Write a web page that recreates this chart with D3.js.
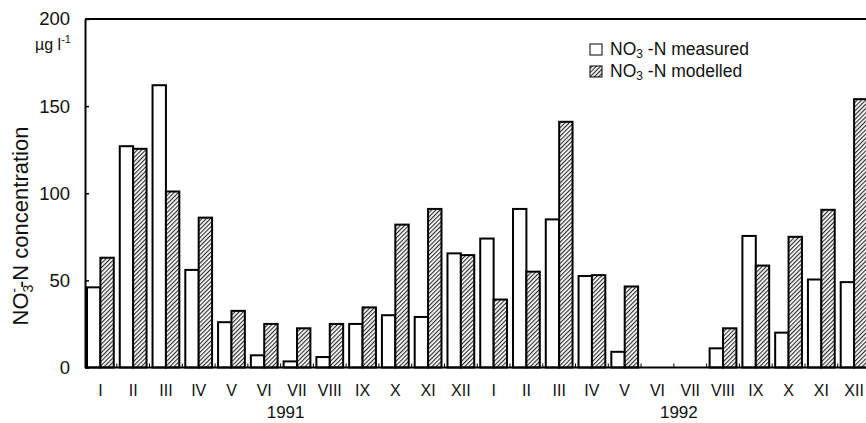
<!DOCTYPE html>
<html>
<head>
<meta charset="utf-8">
<script src="https://cdn.jsdelivr.net/npm/d3@7"></script>
<style>
  body { margin: 0; background: #fff; }
  svg { display: block; font-family: "Liberation Sans", Arial, sans-serif; }
</style>
</head>
<body>
<svg id="chart" width="866" height="423"></svg>
<script>
const months = ["I","II","III","IV","V","VI","VII","VIII","IX","X","XI","XII",
                "I","II","III","IV","V","VI","VII","VIII","IX","X","XI","XII"];
const years = ["1991", "1992"];
const measured = [46,127,162,56,26,7,3.5,6,25,30,29,65.5,
                  74,91,85,52.5,9,null,null,11,75.5,20,50.5,49];
const modelled = [63,125.5,101,86,32.5,25,22.5,25,34.5,82,91,64.5,
                  39,55,141,53,46.5,null,null,22.5,58.5,75,90.5,154];
const yTicks = [0,50,100,150,200];
const seriesNames = ["measured","modelled"];

(function(){
const svg = d3.select("#chart");
const pLeft = 85, pBottom = 367.5, pTop = 19;
const bandW = 32.77;

const x = d3.scaleBand().domain(d3.range(months.length))
  .range([pLeft - 1, pLeft - 1 + bandW * months.length]).padding(0);
const xs = d3.scaleBand().domain(seriesNames).range([3, bandW - 3]).padding(0);
const y = d3.scaleLinear().domain([0, 200]).range([pBottom, pTop]);

// hatch pattern
const defs = svg.append("defs");
const pat = defs.append("pattern").attr("id","hatch")
  .attr("patternUnits","userSpaceOnUse").attr("width",3).attr("height",3)
  .attr("patternTransform","rotate(45)");
pat.append("rect").attr("width",3).attr("height",3).attr("fill","#fff");
pat.append("line").attr("x1",0.6).attr("y1",0).attr("x2",0.6).attr("y2",3)
  .attr("stroke","#222").attr("stroke-width",1.1);

// frame
svg.append("line").attr("x1",pLeft).attr("x2",866).attr("y1",pTop).attr("y2",pTop)
  .attr("stroke","#000").attr("stroke-width",2);

// bars
const rows = months.map((m,i)=>({i, measured: measured[i], modelled: modelled[i]}));
const g = svg.append("g");
const groups = g.selectAll("g.grp").data(rows).join("g")
  .attr("transform", d=>`translate(${x(d.i)},0)`);
groups.selectAll("rect")
  .data(d => seriesNames.map(k => ({k, v: d[k]})).filter(e => e.v != null))
  .join("rect")
  .attr("x", e => xs(e.k))
  .attr("width", xs.bandwidth())
  .attr("y", e => y(e.v))
  .attr("height", e => pBottom - y(e.v))
  .attr("fill", e => e.k === "measured" ? "#fff" : "url(#hatch)")
  .attr("stroke","#000").attr("stroke-width",2);

// small baseline ticks at band boundaries
svg.append("g").selectAll("line").data(d3.range(1, months.length + 1)).join("line")
  .attr("x1", i => x(i - 1) + bandW).attr("x2", i => x(i - 1) + bandW)
  .attr("y1", pBottom).attr("y2", pBottom - 4)
  .attr("stroke","#000").attr("stroke-width",1);

// x axis line
svg.append("line").attr("x1",pLeft).attr("x2",866).attr("y1",pBottom).attr("y2",pBottom)
  .attr("stroke","#000").attr("stroke-width",2.2);

// month labels
svg.append("g").selectAll("text").data(months).join("text")
  .attr("x", (m,i) => x(i) + bandW/2).attr("y", 396)
  .attr("text-anchor","middle").attr("font-size",16).attr("fill","#111")
  .text(m => m);

// year labels
svg.append("g").selectAll("text").data(years).join("text")
  .attr("x", (yr,k) => x(k*12 + 6) + 5).attr("y", 418)
  .attr("text-anchor","middle").attr("font-size",17).attr("fill","#111")
  .text(yr => yr);

// y axis
const yAxis = d3.axisLeft(y).tickValues(yTicks).tickSizeInner(-4).tickSizeOuter(0).tickPadding(15);
const ya = svg.append("g").attr("transform",`translate(${pLeft},0)`).call(yAxis);
ya.select(".domain").attr("stroke","#000").attr("stroke-width",2);
ya.selectAll(".tick line").attr("stroke","#000").attr("stroke-width",1.5);
ya.selectAll(".tick text").attr("font-size",18.5).attr("fill","#111")
  .attr("font-family","Liberation Sans, Arial, sans-serif");

// unit
const unit = svg.append("text").attr("x",35).attr("y",50).attr("font-size",16).attr("fill","#111");
unit.append("tspan").text("µg l");
unit.append("tspan").attr("dy",-7).attr("font-size",11).text("-1");

// y title
const yt = svg.append("text").attr("transform","translate(28,226) rotate(-90)")
  .attr("text-anchor","middle").attr("font-size",22).attr("fill","#111");
yt.append("tspan").text("NO");
yt.append("tspan").attr("dy",5).attr("font-size",14).text("3");
yt.append("tspan").attr("dy",-14).attr("dx",-8).attr("font-size",14).text("-");
yt.append("tspan").attr("dy",9).text("-N concentration");

// legend
const legend = svg.append("g");
seriesNames.forEach((k, j) => {
  const ly = 55 + j * 22;
  legend.append("rect").attr("x",590).attr("y",ly - 11).attr("width",12).attr("height",11)
    .attr("fill", k === "measured" ? "#fff" : "url(#hatch)")
    .attr("stroke","#000").attr("stroke-width",1);
  const t = legend.append("text").attr("x",610).attr("y",ly).attr("font-size",17.5).attr("fill","#111");
  t.append("tspan").text("NO");
  t.append("tspan").attr("dy",3).attr("font-size",12).text("3");
  t.append("tspan").attr("dy",-3).text(" -N " + k);
});
})();
</script>
</body>
</html>
